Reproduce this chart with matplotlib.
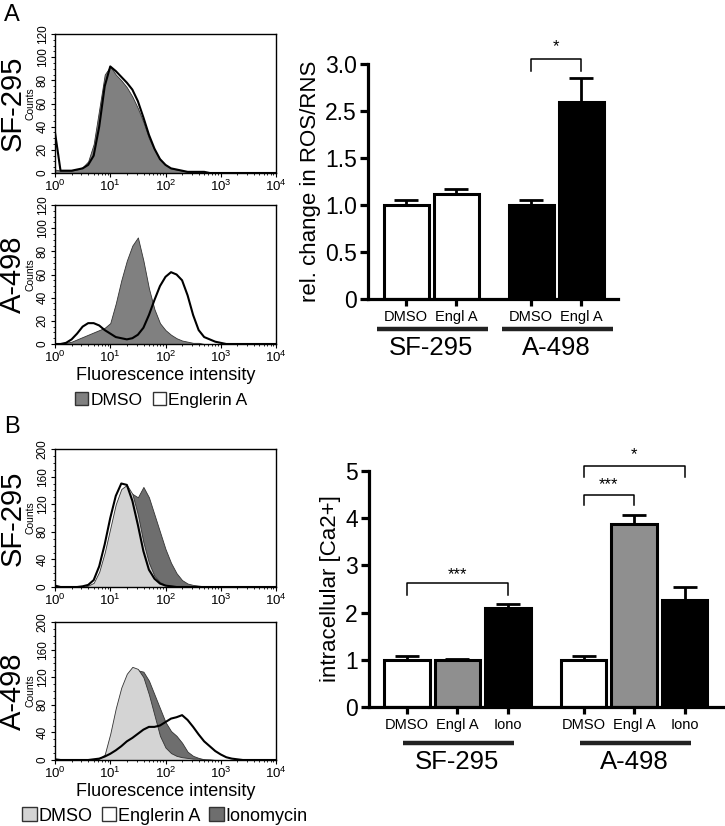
import numpy as np
import matplotlib
matplotlib.use("Agg")
import matplotlib.pyplot as plt
from matplotlib.patches import Patch
from matplotlib.ticker import AutoMinorLocator, LogLocator

plt.rcParams['font.family'] = ['Liberation Sans', 'DejaVu Sans']

# ---- flow cytometry histograms: counts sampled at log10(intensity) = 0.0, 0.1, ... 4.0
log_bins = np.round(np.arange(0, 4.01, 0.1), 1)

a_sf_dmso = [3, 2, 2, 2, 3, 5, 10, 25, 55, 85,
             92, 85, 80, 74, 66, 56, 44, 30, 20, 12,
             7, 4, 3, 2, 1, 1, 1, 1, 0, 0,
             0, 0, 0, 0, 0, 0, 0, 0, 0, 0, 0]
a_sf_engl = [35, 2, 2, 2, 3, 4, 7, 15, 40, 75,
             92, 88, 83, 78, 72, 62, 48, 33, 21, 12,
             7, 4, 3, 2, 1, 1, 1, 1, 0, 0,
             0, 0, 0, 0, 0, 0, 0, 0, 0, 0, 0]
a_a498_dmso = [0, 0, 1, 2, 4, 6, 8, 10, 12, 14,
               18, 35, 55, 72, 85, 92, 72, 48, 30, 18,
               12, 8, 5, 3, 2, 1, 1, 0, 0, 0,
               0, 0, 0, 0, 0, 0, 0, 0, 0, 0, 0]
a_a498_engl = [0, 0, 1, 4, 9, 15, 18, 18, 16, 12,
               9, 6, 5, 4, 5, 8, 14, 25, 38, 50,
               58, 62, 60, 55, 42, 25, 12, 6, 4, 2,
               1, 0, 0, 0, 0, 0, 0, 0, 0, 0, 0]

b_sf_dmso = [0, 0, 0, 0, 0, 0, 2, 6, 22, 50,
             85, 120, 142, 148, 135, 105, 65, 35, 16, 7,
             3, 2, 1, 0, 0, 0, 0, 0, 0, 0,
             0, 0, 0, 0, 0, 0, 0, 0, 0, 0, 0]
b_sf_engl = [2, 0, 0, 0, 0, 1, 3, 10, 30, 62,
             100, 132, 150, 148, 125, 90, 52, 25, 12, 5,
             2, 1, 0, 0, 0, 0, 0, 0, 0, 0,
             0, 0, 0, 0, 0, 0, 0, 0, 0, 0, 0]
b_sf_iono = [0, 0, 0, 0, 0, 0, 0, 2, 10, 30,
             60, 95, 125, 140, 135, 130, 145, 130, 105, 80,
             55, 35, 20, 10, 5, 3, 2, 1, 0, 0,
             0, 0, 0, 0, 0, 0, 0, 0, 0, 0, 0]
b_a498_dmso = [0, 0, 0, 0, 0, 0, 0, 0, 2, 8,
               38, 75, 105, 125, 135, 132, 120, 95, 65, 35,
               18, 10, 6, 4, 3, 2, 2, 1, 1, 0,
               0, 0, 0, 0, 0, 0, 0, 0, 0, 0, 0]
b_a498_engl = [1, 0, 0, 0, 0, 0, 0, 1, 2, 5,
               9, 14, 20, 27, 32, 38, 44, 48, 48, 50,
               55, 60, 62, 65, 58, 48, 37, 27, 20, 13,
               8, 4, 2, 1, 0, 0, 0, 0, 0, 0, 0]
b_a498_iono = [0, 0, 0, 0, 0, 0, 0, 0, 0, 5,
               30, 65, 95, 120, 130, 130, 128, 115, 95, 75,
               55, 42, 35, 25, 12, 6, 3, 1, 0, 0,
               0, 0, 0, 0, 0, 0, 0, 0, 0, 0, 0]

# ---- bar charts
ros_labels = ['DMSO', 'Engl A', 'DMSO', 'Engl A']
ros_mean = [1.0, 1.12, 1.0, 2.6]
ros_err = [0.05, 0.05, 0.05, 0.25]

ca_labels = ['DMSO', 'Engl A', 'Iono', 'DMSO', 'Engl A', 'Iono']
ca_mean = [1.0, 0.99, 2.09, 1.0, 3.87, 2.27]
ca_err = [0.07, 0.03, 0.09, 0.08, 0.2, 0.28]

cells = ['SF-295', 'A-498']

W, H = 725, 826
fig = plt.figure(figsize=(W / 100, H / 100), dpi=100)


def px_axes(l, t, r, b):
    return fig.add_axes([l / W, 1 - b / H, (r - l) / W, (b - t) / H])


def hist_panel(ax, fills, line, ymax, ystep, cell, xlabel=False):
    xs = 10 ** log_bins
    for counts, color in fills:
        ax.fill_between(xs, 0, counts, facecolor=color, edgecolor='#333333', lw=0.6)
    ax.plot(xs, line, color='black', lw=1.5)
    ax.set_xscale('log')
    ax.set_xlim(1, 1e4)
    ax.set_ylim(0, ymax)
    ax.set_yticks(np.arange(0, ymax + 1, ystep))
    ax.yaxis.set_minor_locator(AutoMinorLocator(4))
    ax.xaxis.set_major_locator(LogLocator(base=10, numticks=10))
    ax.tick_params(axis='x', which='major', labelsize=9.5, length=3, width=0.8, pad=1.5)
    ax.tick_params(axis='y', which='major', labelsize=8.5, length=3, width=0.8, pad=1.5)
    ax.tick_params(axis='both', which='minor', length=1.5, width=0.6)
    for lab in ax.get_yticklabels():
        lab.set_rotation(90)
        lab.set_va('center')
    for s in ax.spines.values():
        s.set_linewidth(1.0)
    ax.text(-0.11, 0.5, 'Counts', rotation=90, transform=ax.transAxes,
            ha='center', va='center', fontsize=7.5)
    ax.text(-0.19, 0.5, cell, rotation=90, transform=ax.transAxes,
            ha='center', va='center', fontsize=21)
    if xlabel:
        ax.set_xlabel('Fluorescence intensity', fontsize=13, labelpad=1)


# ---- panel A histograms
ax = px_axes(55, 34, 276, 173)
hist_panel(ax, [(a_sf_dmso, '#808080')], a_sf_engl, 120, 20, cells[0])
ax = px_axes(55, 205, 276, 344)
hist_panel(ax, [(a_a498_dmso, '#808080')], a_a498_engl, 120, 20, cells[1], xlabel=True)

fig.legend(handles=[Patch(facecolor='#808080', edgecolor='#333333'),
                    Patch(facecolor='white', edgecolor='#333333')],
           labels=['DMSO', 'Englerin A'], ncol=2, frameon=False, fontsize=12.5,
           handlelength=0.8, handleheight=0.8, handletextpad=0.1, columnspacing=0.6,
           loc='center', bbox_to_anchor=(161 / W, 1 - 400 / H))

# ---- panel B histograms
ax = px_axes(55, 449, 276, 587)
hist_panel(ax, [(b_sf_iono, '#6e6e6e'), (b_sf_dmso, '#d4d4d4')], b_sf_engl, 200, 40, cells[0])
ax = px_axes(55, 622, 276, 760)
hist_panel(ax, [(b_a498_iono, '#6e6e6e'), (b_a498_dmso, '#d4d4d4')], b_a498_engl, 200, 40,
           cells[1], xlabel=True)

fig.legend(handles=[Patch(facecolor='#d4d4d4', edgecolor='#333333'),
                    Patch(facecolor='white', edgecolor='#333333'),
                    Patch(facecolor='#6e6e6e', edgecolor='#333333')],
           labels=['DMSO', 'Englerin A', 'Ionomycin'], ncol=3, frameon=False, fontsize=13,
           handlelength=0.8, handleheight=0.8, handletextpad=0.1, columnspacing=0.5,
           loc='center', bbox_to_anchor=(165 / W, 1 - 816 / H))

fig.text(12 / W, 1 - 15 / H, 'A', fontsize=17, ha='center', va='center')
fig.text(12 / W, 1 - 427 / H, 'B', fontsize=17, ha='center', va='center')


def style_bar_axes(ax):
    for side in ['top', 'right']:
        ax.spines[side].set_visible(False)
    for side in ['left', 'bottom']:
        ax.spines[side].set_linewidth(2.3)
    ax.tick_params(axis='y', labelsize=16.5, length=6, width=2.3, pad=2)
    ax.tick_params(axis='x', labelsize=10.5, length=5, width=2.3, pad=3)


def bracket(ax, x0, x1, ytop, yleg, label, ystar):
    ax.plot([x0, x0, x1, x1], [yleg, ytop, ytop, yleg], color='black', lw=1.1, clip_on=False)
    ax.text((x0 + x1) / 2, ystar, label, ha='center', va='center', fontsize=12)


def group_lines(ax, groups, yline, ytext, left, right):
    tr = ax.get_xaxis_transform()
    for name, pos in groups:
        ax.plot([pos[0] - left, pos[-1] + right], [yline, yline], color='#222222', lw=3.2,
                transform=tr, clip_on=False, solid_capstyle='butt')
        ax.text((pos[0] + pos[-1]) / 2, ytext, name, transform=tr, ha='center', va='center',
                fontsize=18.5)


# ---- panel A bar chart (segmented y axis: 1.5-2.5 compressed)
def seg_fwd(v):
    v = np.asarray(v, float)
    return np.where(v <= 1.5, v, np.where(v <= 2.5, 1.5 + (v - 1.5) * 0.5, v - 0.5))


def seg_inv(y):
    y = np.asarray(y, float)
    return np.where(y <= 1.5, y, np.where(y <= 2.0, 1.5 + (y - 1.5) * 2, y + 0.5))


ros_pos = [0, 1, 2.5, 3.5]
ros_colors = ['white', 'white', 'black', 'black']
ax = px_axes(368, 64, 618, 299)
ax.set_yscale('function', functions=(seg_fwd, seg_inv))
ax.bar(ros_pos, ros_mean, width=0.9, color=ros_colors, edgecolor='black', linewidth=2.2, zorder=2)
ax.errorbar(ros_pos, ros_mean, yerr=[np.zeros(len(ros_err)), ros_err], fmt='none',
            ecolor='black', elinewidth=2, capsize=8.5, capthick=2, zorder=3)
ax.set_ylim(0, 3.0)
ax.set_xlim(-0.76, 4.24)
ax.set_yticks([0, 0.5, 1.0, 1.5, 2.5, 3.0])
ax.set_yticklabels(['0', '0.5', '1.0', '1.5', '2.5', '3.0'])
ax.set_xticks(ros_pos)
ax.set_xticklabels(ros_labels)
ax.set_ylabel('rel. change in ROS/RNS', fontsize=16, labelpad=3)
style_bar_axes(ax)
bracket(ax, 2.5, 3.5, 3.053, 2.926, '*', 3.19)
group_lines(ax, [(cells[0], ros_pos[:2]), (cells[1], ros_pos[2:])], -0.128, -0.21, 0.58, 0.64)

# ---- panel B bar chart
ca_pos = [0, 1, 2, 3.5, 4.5, 5.5]
ca_colors = ['white', '#8f8f8f', 'black', 'white', '#8f8f8f', 'black']
ax = px_axes(369, 471, 725, 707)
ax.bar(ca_pos, ca_mean, width=0.9, color=ca_colors, edgecolor='black', linewidth=2.2, zorder=2)
ax.errorbar(ca_pos, ca_mean, yerr=[np.zeros(len(ca_err)), ca_err], fmt='none',
            ecolor='black', elinewidth=2, capsize=8.5, capthick=2, zorder=3)
ax.set_ylim(0, 5)
ax.set_xlim(-0.75, 6.3)
ax.set_yticks(range(6))
ax.set_xticks(ca_pos)
ax.set_xticklabels(ca_labels)
ax.set_ylabel('intracellular [Ca2+]', fontsize=16, labelpad=3)
style_bar_axes(ax)
bracket(ax, 0, 2, 2.63, 2.37, '***', 2.80)
bracket(ax, 3.5, 4.5, 4.49, 4.28, '***', 4.72)
bracket(ax, 3.5, 5.5, 5.11, 4.87, '*', 5.34)
group_lines(ax, [(cells[0], ca_pos[:3]), (cells[1], ca_pos[3:])], -0.153, -0.233, 0.08, 0.12)

fig.savefig('out.png', dpi=100)
